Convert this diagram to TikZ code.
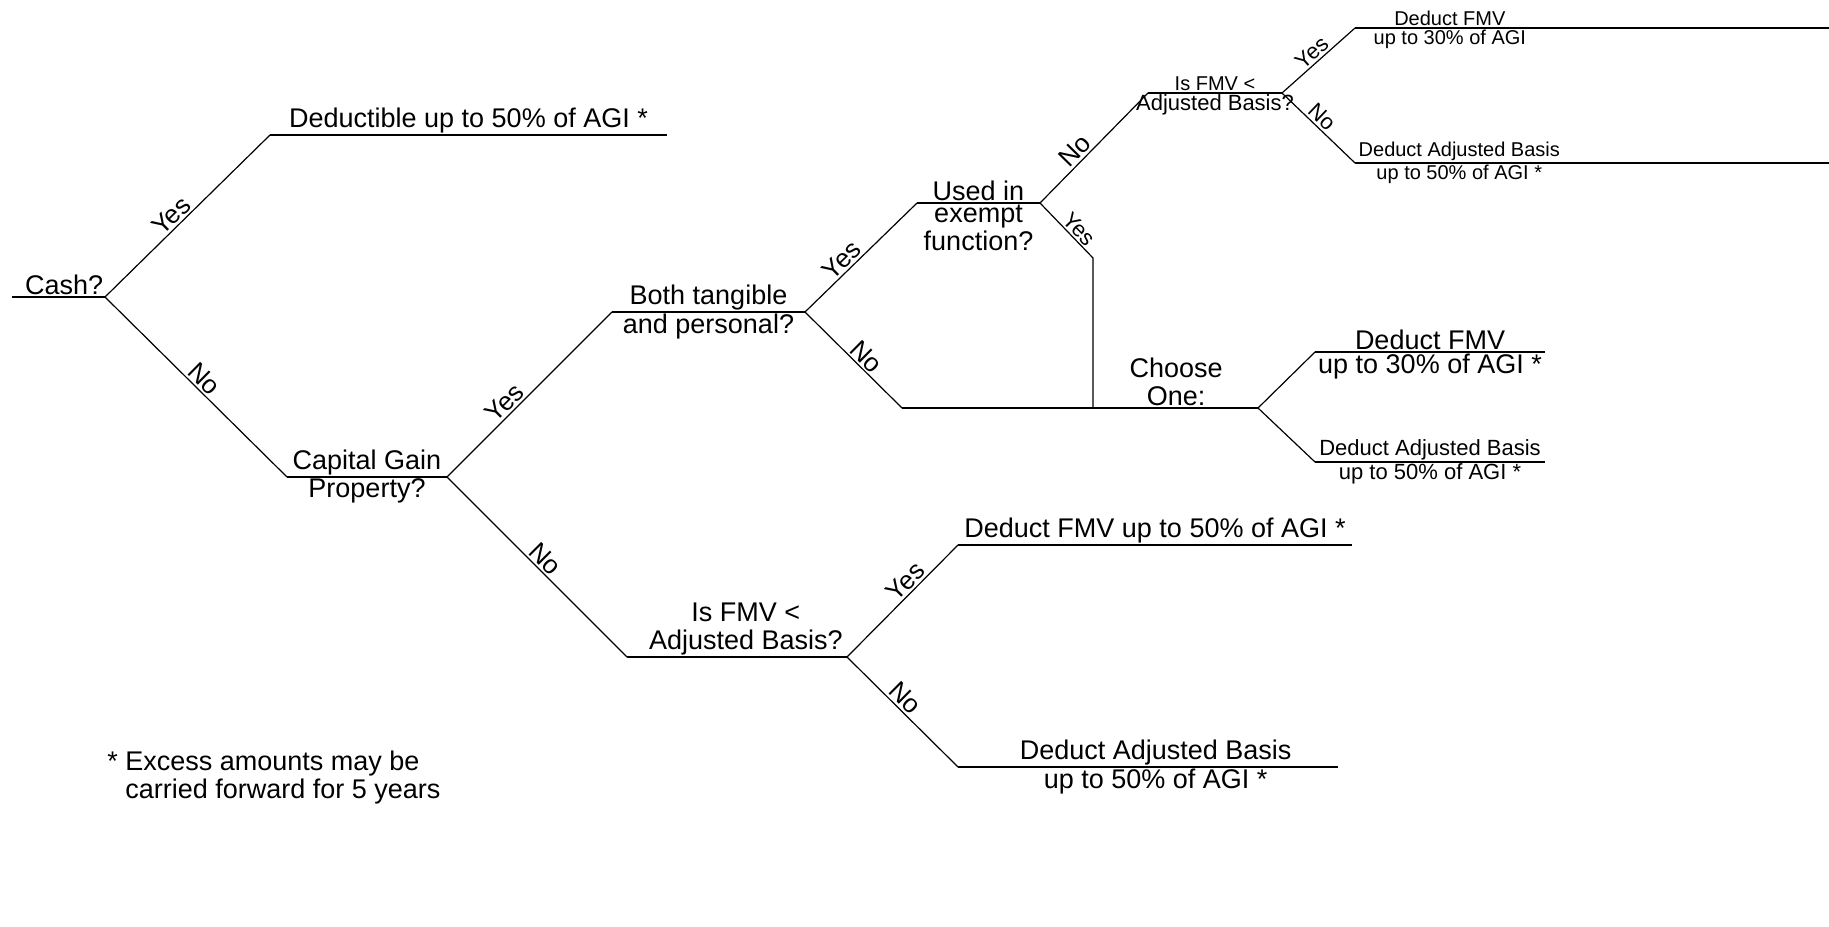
\documentclass[tikz,border=0pt]{standalone}
\usepackage{fontspec}
\setmainfont{Liberation Sans}

\begin{document}
\begin{tikzpicture}[x=0.5pt,y=-0.5pt,
        plat/.style={line width=1pt},
        branch/.style={line width=0.6pt},
        txt/.style={inner sep=0.5pt,align=center,font=\fontsize{13.5}{14}\selectfont},
        mid/.style={inner sep=0.5pt,align=center,font=\fontsize{11}{12}\selectfont},
        small/.style={inner sep=0.5pt,align=center,font=\fontsize{10}{11}\selectfont},
        ans/.style={sloped,above,inner sep=1pt,font=\fontsize{13}{14}\selectfont},
        ansS/.style={sloped,above,inner sep=1pt,font=\fontsize{11}{12}\selectfont}]
        \useasboundingbox (0,0) rectangle (1829,926);
        % branch points
        \coordinate (cashL) at (12,297);   \coordinate (cashR) at (105,297);
        \coordinate (dedL) at (270,135);   \coordinate (dedR) at (667,135);
        \coordinate (capL) at (287,477);   \coordinate (capR) at (447,477);
        \coordinate (bothL) at (612,312);  \coordinate (bothR) at (805,312);
        \coordinate (usedL) at (917,203);  \coordinate (usedR) at (1040,203);
        \coordinate (fmvAL) at (1148,93);  \coordinate (fmvAR) at (1282,93);
        \coordinate (fmvAyL) at (1355,28); \coordinate (fmvAyR) at (1829,28);
        \coordinate (fmvAnL) at (1355,163);\coordinate (fmvAnR) at (1829,163);
        \coordinate (usedY) at (1093,258); \coordinate (joinC) at (1093,408);
        \coordinate (chL) at (902,408);    \coordinate (chR) at (1258,408);
        \coordinate (chyL) at (1315,352);  \coordinate (chyR) at (1545,352);
        \coordinate (chnL) at (1315,462);  \coordinate (chnR) at (1545,462);
        \coordinate (fmvBL) at (627,657);  \coordinate (fmvBR) at (847,657);
        \coordinate (fmvByL) at (958,545); \coordinate (fmvByR) at (1352,545);
        \coordinate (fmvBnL) at (958,767); \coordinate (fmvBnR) at (1338,767);

        % platforms with their texts
        \draw[plat](cashL)--node[txt,above,pos=0.56](cash){Cash?}(cashR);
        \draw[plat](dedL)--node[txt,above](ded){Deductible up to 50\% of AGI *}(dedR);
        \draw[plat](capL)--node[txt,above](capA){Capital Gain}node[txt,below](capB){Property?}(capR);
        \draw[plat](bothL)--node[txt,above](bothA){Both tangible}node[txt,below](bothB){and personal?}(bothR);
        \draw[plat](usedL)--node[txt,above](usedA){Used in}node[txt,below](usedB){exempt\\function?}(usedR);
        \draw[plat](fmvAL)--node[small,above](fmvAA){Is FMV <}node[mid,below](fmvAB){Adjusted Basis?}(fmvAR);
        \draw[plat](fmvAyL)--node[small,above,pos=0.2](fmvAyA){Deduct FMV}node[small,below,pos=0.2](fmvAyB){up to 30\% of AGI}(fmvAyR);
        \draw[plat](fmvAnL)--node[small,above,pos=0.22](fmvAnA){Deduct Adjusted Basis}node[small,below,pos=0.22](fmvAnB){up to 50\% of AGI *}(fmvAnR);
        \draw[plat](chL)--node[txt,above,pos=0.77](choose){Choose\\One:}(chR);
        \draw[plat](chyL)--node[txt,above](chyA){Deduct FMV}node[txt,below](chyB){up to 30\% of AGI *}(chyR);
        \draw[plat](chnL)--node[mid,above](chnA){Deduct Adjusted Basis}node[mid,below](chnB){up to 50\% of AGI *}(chnR);
        \draw[plat](fmvBL)--node[txt,above,pos=0.54](fmvB){Is FMV <\\Adjusted Basis?}(fmvBR);
        \draw[plat](fmvByL)--node[txt,above](fmvBy){Deduct FMV up to 50\% of AGI *}(fmvByR);
        \draw[plat](fmvBnL)--node[txt,above,pos=0.52](fmvBnA){Deduct Adjusted Basis}node[txt,below,pos=0.52](fmvBnB){up to 50\% of AGI *}(fmvBnR);

        % yes / no branches
        \draw[branch](cashR)--node[ans,pos=0.45](y1){Yes}(dedL);
        \draw[branch](cashR)--node[ans,pos=0.5](n1){No}(capL);
        \draw[branch](capR)--node[ans,pos=0.4](y2){Yes}(bothL);
        \draw[branch](capR)--node[ans,pos=0.5](n2){No}(fmvBL);
        \draw[branch](bothR)--node[ans,pos=0.4](y3){Yes}(usedL);
        \draw[branch](bothR)--node[ans,pos=0.55](n3){No}(chL);
        \draw[branch](usedR)--node[ans,pos=0.4](n4){No}(fmvAL);
        \draw[branch](usedR)--node[ansS,pos=0.6](y4){Yes}(usedY)--(joinC);
        \draw[branch](fmvAR)--node[ansS,pos=0.5](y5){Yes}(fmvAyL);
        \draw[branch](fmvAR)--node[ansS,pos=0.45](n5){No}(fmvAnL);
        \draw[branch](chR)--(chyL);
        \draw[branch](chR)--(chnL);
        \draw[branch](fmvBR)--node[ans,pos=0.6](y6){Yes}(fmvByL);
        \draw[branch](fmvBR)--node[ans,pos=0.45](n6){No}(fmvBnL);

        \node[txt,anchor=north west,align=left](note)at(106,750){* Excess amounts may be\\\phantom{*} carried forward for 5 years};
    \end{tikzpicture}
\end{document}
